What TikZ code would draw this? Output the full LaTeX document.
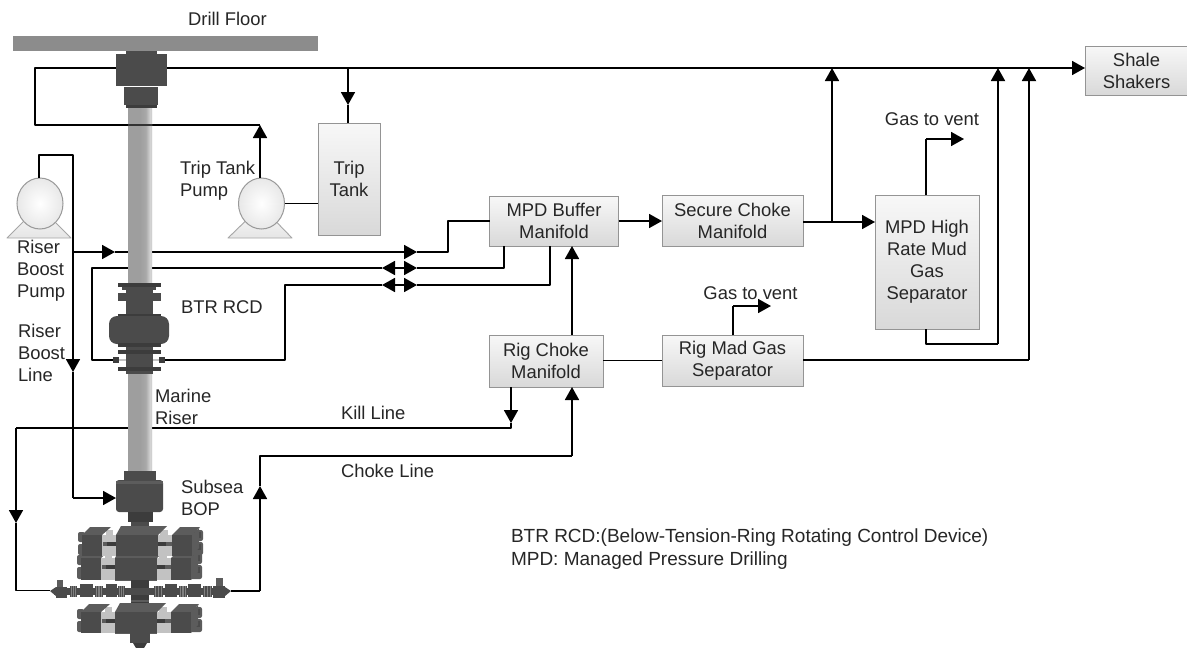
\documentclass[tikz,border=0pt]{standalone}
\usepackage{fontspec}
\setmainfont{Liberation Sans}
\usetikzlibrary{arrows.meta,calc,shapes.geometric}
\definecolor{dk}{HTML}{4B4B4B}
\definecolor{dk2}{HTML}{3C3C3C}
\definecolor{dk3}{HTML}{5C5C5C}
\definecolor{lt}{HTML}{C2C2C2}
\definecolor{tx}{HTML}{262626}
\pgfdeclarehorizontalshading{risershade}{100bp}{color(0bp)=(black!38);color(25bp)=(black!38);color(50bp)=(black!38);color(62bp)=(black!34);color(72bp)=(black!15);color(76bp)=(black!30);color(80bp)=(black!42);color(100bp)=(black!42)}
\tikzset{
  box/.style={draw=black!42,line width=1pt,top color=black!3,bottom color=black!15,inner sep=0pt,outer sep=0pt,align=center,text=tx,font=\fontsize{18.4}{22}\selectfont},
  lab/.style={inner sep=0pt,outer sep=0pt,align=left,text=tx,font=\fontsize{18.4}{22}\selectfont,anchor=west},
  wire/.style={line width=1.8pt,black,line join=round},
  arr/.style={wire,-{Triangle[length=13pt,width=14pt]}},
  pumpbase/.style={top color=black!2,bottom color=black!10,draw=black!35,line width=.9pt,line join=round},
  pumpball/.style={ellipse,draw=black!40,line width=1pt,inner color=white,outer color=black!9,minimum width=46pt,minimum height=51pt,inner sep=0pt,outer sep=0pt},
  tiny/.style={inner sep=0,outer sep=0,minimum width=6pt,minimum height=6pt},
}
\newcommand{\ramunit}[3]{% x shift, face y, face height
\begin{scope}[shift={(#1,#2)}]
 \fill[lt] (106,-5) rectangle (113,0);
 \fill[lt] (160,-5) rectangle (168,0);
 \fill[lt] (102,0) rectangle (117,#3);
 \fill[lt] (158,0) rectangle (173,#3);
 \fill[dk2] (103,7) rectangle (117,11);
 \fill[dk3] (103,7) rectangle (107,11);
 \fill[dk2] (158,7) rectangle (172,11);
 \fill[dk3] (166,7) rectangle (172,11);
 % cylinders
 \fill[dk3,rounded corners=2pt] (78,-3) rectangle (85,7);
 \fill[dk3,rounded corners=2pt] (78,9) rectangle (85,#3-1);
 \fill[dk3,rounded corners=2pt] (190,-5) rectangle (203,6);
 \fill[dk3,rounded corners=2pt] (190,7) rectangle (203,#3-1);
 \fill[dk] (194,-3) rectangle (201,3);
 \fill[dk] (194,9) rectangle (201,15);
 % left block
 \fill[dk3] (82,0) -- (90,-8) -- (111,-8) -- (102,0) -- cycle;
 \fill[dk] (82,0) rectangle (102,#3);
 % right block
 \fill[dk3] (172,0) -- (180,-8) -- (200,-8) -- (192,0) -- cycle;
 \fill[dk3] (192,0) -- (199,-7) -- (199,#3-8) -- (192,#3) -- cycle;
 \fill[dk] (172,0) rectangle (192,#3);
 % centre
 \fill[dk3] (116,0) -- (121,-9) -- (167,-9) -- (158,0) -- cycle;
 \fill[dk] (116,0) rectangle (158,#3);
 \draw[dk3,line width=.6pt] (116,#3) -- (158,#3);
\end{scope}}
\newcommand{\flanged}[2]{%
 \fill[dk] (#1,585.5) rectangle (#2,597);
 \fill[black!50] ({(#1+#2)/2-0.8},585.5) rectangle ({(#1+#2)/2+0.8},597);
 \fill[black!50] ({#1+1},585.5) rectangle ({#1+2},597);
 \fill[black!50] ({#2-2},585.5) rectangle ({#2-1},597);}
\begin{document}
\begin{tikzpicture}[x=1pt,y=-1pt]
\useasboundingbox (0,0) rectangle (1187,648);
\fill[white] (0,0) rectangle (1187,648);

% floor
\node[fill=black!45,draw=none,minimum width=305pt,minimum height=15pt,inner sep=0pt,outer sep=0pt] (floor) at (165.5,43.5) {};
\node[lab,anchor=center] (floorlab) at (227.5,19) {Drill Floor};

% boxes
\node[box,minimum width=62pt,minimum height=112pt] (trip) at (349,179) {Trip\\Tank};
\node[box,minimum width=129pt,minimum height=50pt] (buffer) at (554,221) {MPD Buffer\\Manifold};
\node[box,minimum width=141pt,minimum height=51pt] (secure) at (732.5,220.5) {Secure Choke\\Manifold};
\node[box,minimum width=104pt,minimum height=134pt] (hrmgs) at (927,262) {MPD High\\Rate Mud\\Gas\\Separator};
\node[box,minimum width=114pt,minimum height=52pt] (rigchoke) at (546,361) {Rig Choke\\Manifold};
\node[box,minimum width=141pt,minimum height=51pt] (rigsep) at (732.5,360.5) {Rig Mad Gas\\Separator};
\node[box,minimum width=103pt,minimum height=49pt] (shale) at (1136.5,70.5) {Shale\\Shakers};

% pumps
\draw[pumpbase] (7,238) -- (71,238) -- (39,206) -- cycle;
\draw[pumpbase] (228,238) -- (292,238) -- (261,206) -- cycle;
\node[pumpball] (rbpump) at (40,203.5) {};
\node[pumpball] (ttpump) at (261.5,203.5) {};

% named equipment anchors
\node[inner sep=0,outer sep=0,minimum width=51pt,minimum height=32pt] (head) at (141.5,70) {};
\node[inner sep=0,outer sep=0,minimum width=47pt,minimum height=32pt] (bop) at (139.5,496) {};
\node[tiny] (vl) at (116,360) {};
\node[tiny] (vr) at (162,360) {};
\coordinate (chokeL) at (50,590.5);
\coordinate (chokeR) at (231,591);

% coordinates for routing
\coordinate (a) at (35,125);
\coordinate (b) at (260,125);
\coordinate (t1) at (348,68);
\coordinate (t1h) at (348,105);
\coordinate (bl1) at (39,155);
\coordinate (bl2) at (73,155);
\coordinate (bl3) at (73,252);
\coordinate (bl4) at (73,372);
\coordinate (bl5) at (73,498);
\coordinate (bh1) at (115,252);
\coordinate (bh2) at (417,252);
\coordinate (bm) at (448,252);
\coordinate (l1a) at (92,268);
\coordinate (l1l) at (382,268);
\coordinate (l1m) at (395,268);
\coordinate (l1n) at (404,268);
\coordinate (l1r) at (417,268);
\coordinate (l1e) at (504,268);
\coordinate (l2a) at (285,285);
\coordinate (l2l) at (382,285);
\coordinate (l2m) at (395,285);
\coordinate (l2n) at (404,285);
\coordinate (l2r) at (417,285);
\coordinate (l2e) at (550,285);
\coordinate (x1) at (572,300);
\coordinate (j1) at (832,222);
\coordinate (top1) at (832,68);
\coordinate (top2) at (998,68);
\coordinate (top3) at (1029,68);
\coordinate (g1) at (926,139);
\coordinate (g1e) at (964,139);
\coordinate (g2) at (733,306);
\coordinate (g2e) at (771,306);
\coordinate (h1) at (926,344);
\coordinate (h2) at (998,344);
\coordinate (s1) at (1029,360);
\coordinate (k1) at (511,428);
\coordinate (k1h) at (511,423);
\coordinate (k2) at (16,429);
\coordinate (k2h) at (16,523);
\coordinate (k3) at (16,590.5);
\coordinate (c1) at (260,591);
\coordinate (c2) at (260,486);
\coordinate (c3) at (260,456);
\coordinate (c4) at (572,456);

% wires behind equipment
\draw[wire] (head.west |- t1) -| (a) -- (b);
\draw[arr] (head.east |- t1) -- (shale.west |- t1);
\draw[wire] (t1h) -- (trip.north -| t1h);
\draw[arr] (t1) -- (t1h);
\draw[arr] (ttpump.north -| b) -- (b);
\draw[wire] (ttpump.east) -- (trip.west |- ttpump.east);

\draw[wire] (bl1 |- rbpump.north) -- (bl1) -- (bl2) -- (bl3);
\draw[arr] (bl3) -- (bl4);
\draw[wire] (bl4) -- (bl5);
\draw[arr] (bl5) -- (bop.west |- bl5);
\draw[arr] (bl3) -- (bh1);
\draw[arr] (bh1) -- (bh2);
\draw[wire] (bh2) -- (bm) |- (buffer.west);
\draw[wire] (l1e |- buffer.south) -- (l1e) -- (l1r);
\draw[arr] (l1n) -- (l1r);
\draw[wire] (l1n) -- (l1m);
\draw[arr] (l1m) -- (l1l);
\draw[wire] (l1l) -- (l1a) |- (vl.west);
\draw[wire] (l2e |- buffer.south) -- (l2e) -- (l2r);
\draw[arr] (l2n) -- (l2r);
\draw[wire] (l2n) -- (l2m);
\draw[arr] (l2m) -- (l2l);
\draw[wire] (l2l) -- (l2a) |- (vr.east);

\draw[arr] (buffer.east) -- (secure.west |- buffer.east);
\draw[arr] (x1 |- rigchoke.north) -- (x1 |- buffer.south);
\draw[wire] (rigchoke.east |- rigsep.west) -- (rigsep.west);
\draw[arr] (secure.east |- j1) -- (hrmgs.west |- j1);
\draw[arr] (j1) -- (top1);
\draw[wire] (g1 |- hrmgs.north) -- (g1);
\draw[arr] (g1) -- (g1e);
\draw[wire] (g2 |- rigsep.north) -- (g2);
\draw[arr] (g2) -- (g2e);
\draw[wire] (h1 |- hrmgs.south) -- (h1) -- (h2);
\draw[arr] (h2) -- (top2);
\draw[wire] (rigsep.east |- s1) -- (s1);
\draw[arr] (s1) -- (top3);

\draw[arr] (k1 |- rigchoke.south) -- (k1h);
\draw[wire] (k1h) -- (k1) -- (k2 |- k1);
\draw[arr] (k2 |- k1) -- (k2h);
\draw[wire] (k2h) -- (k3) -- (chokeL);
\draw[wire] (chokeR) -- (c1);
\draw[arr] (c1) -- (c2);
\draw[wire] (c2) -- (c3) -- (c4);
\draw[arr] (c4) -- (c4 |- rigchoke.south);

% riser
\shade[shading=risershade] (128,108) rectangle (152,472);

% wellhead
\fill[dk] (126,51) rectangle (157,55);
\fill[dk] (116,54) rectangle (167,86);
\fill[dk] (124,87) rectangle (158,105);
\fill[dk2] (126,105) rectangle (157,108);
% the trip tank return passes in front of the riser
\draw[wire,black!80] (128,125) -- (152,125);

% BTR RCD
\fill[dk2] (118,283) rectangle (161,287);
\fill[dk] (122,287) rectangle (156,290);
\fill[dk] (118,293) rectangle (161,301);
\fill[dk] (126,290) rectangle (153,314);
\fill[dk2] (118,314) rectangle (161,317);
\fill[dk,rounded corners=8pt] (109,316) rectangle (169,344);
\fill[dk2] (118,343) rectangle (161,347);
\fill[dk] (126,347) rectangle (153,374);
\fill[dk2] (118,350) rectangle (161,354);
\fill[dk2] (118,367) rectangle (161,371);
\fill[lt] (119,359) rectangle (126,361);
\fill[lt] (153,359) rectangle (159,361);
\fill[dk2] (113,357) rectangle (119,363);
\fill[dk2] (159,357) rectangle (165,363);

% subsea BOP
\fill[dk] (124,471) rectangle (156,482);
\fill[dk,rounded corners=3pt] (116,480) rectangle (163,512);
\fill[dk3] (116,481) rectangle (163,484);
\fill[dk2] (128,512) rectangle (153,522);
\fill[dk] (131,522) rectangle (149,535);
\ramunit{-1}{558}{22}
\ramunit{0}{535}{21}
% choke and kill valves
\fill[dk2] (131,580) rectangle (149,612);
\fill[dk3] (131,590) rectangle (149,592);
\fill[dk3] (131,600) rectangle (149,602);
\fill[dk] (54,588) rectangle (226,595);
\fill[dk] (50,591) -- (56,587) -- (56,596) -- cycle;
\fill[dk] (231,591) -- (225,587) -- (225,596) -- cycle;
\fill[dk] (56,587) rectangle (67,598);
\fill[dk] (213,586) rectangle (225,598);
\fill[dk3] (57,580) rectangle (63,587);
\fill[dk3] (216,578) rectangle (223,586);
\flanged{70}{77}
\fill[dk] (80,584) rectangle (93,597);
\flanged{95}{103}
\fill[dk] (106,584) rectangle (117,597);
\flanged{118}{125}
\flanged{154}{163}
\fill[dk] (165,584) rectangle (177,597);
\flanged{179}{187}
\fill[dk] (188,584) rectangle (201,597);
\flanged{203}{212}
\ramunit{-1}{612}{21}
\fill[dk] (130,633) rectangle (150,643);
\fill[dk2] (133,643) -- (147,643) -- (144,648) -- (136,648) -- cycle;

% labels
\node[lab] (tlab) at (180,180.5) {Trip Tank\\Pump};
\node[lab] (rlab) at (17,271) {Riser\\Boost\\Pump};
\node[lab] (llab) at (18,353) {Riser\\Boost\\Line};
\node[lab] (btr) at (181,307) {BTR RCD};
\node[lab] (mar) at (155,407) {Marine\\Riser};
\node[lab] (kill) at (341,413) {Kill Line};
\node[lab] (choke) at (341,471) {Choke Line};
\node[lab] (sub) at (181,497.5) {Subsea\\BOP};
\node[lab,anchor=center] (gv1) at (932,119) {Gas to vent};
\node[lab,anchor=center] (gv2) at (750.5,293) {Gas to vent};
\node[lab,font=\fontsize{19}{23}\selectfont] (note) at (511,549.5) {BTR RCD:(Below-Tension-Ring Rotating Control Device)\\MPD: Managed Pressure Drilling};
\end{tikzpicture}
\end{document}
